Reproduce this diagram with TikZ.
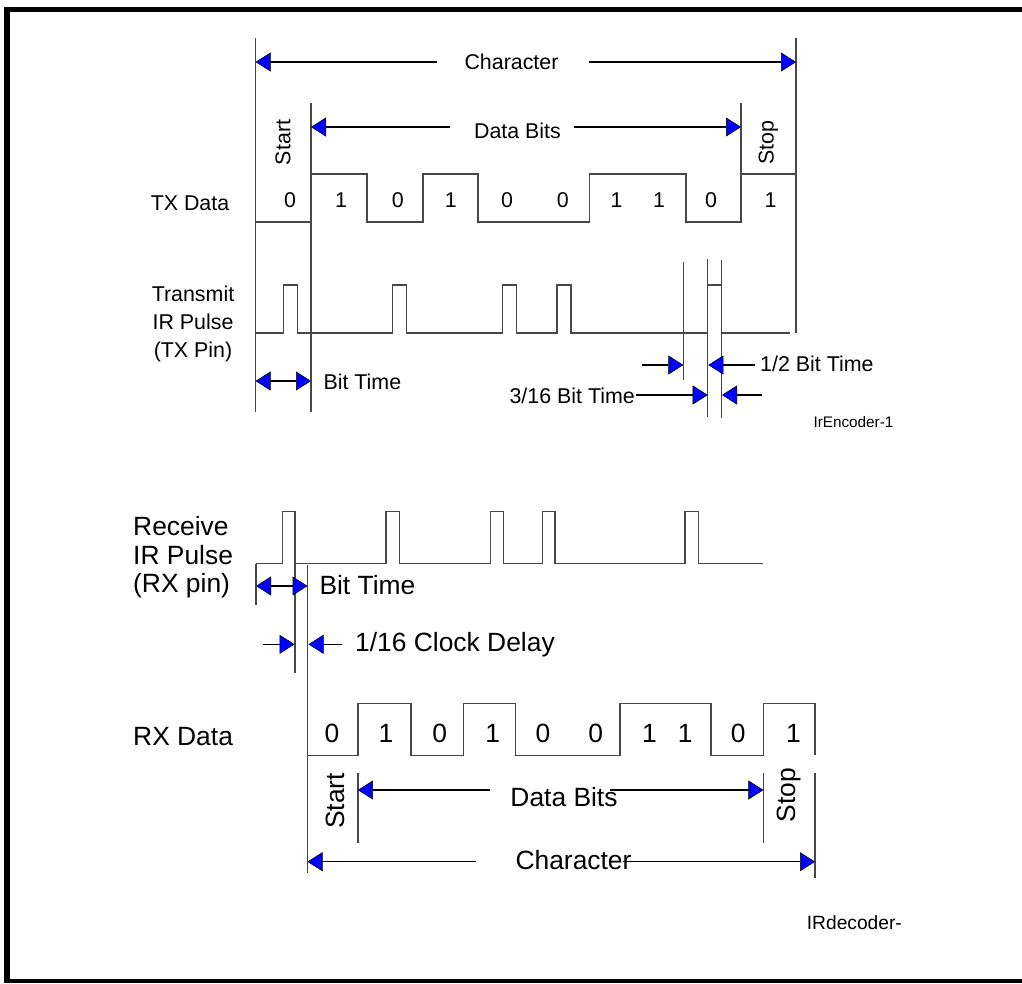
\documentclass[tikz,border=0pt]{standalone}
\usepackage{fontspec}
\setmainfont{Liberation Sans}
\usetikzlibrary{arrows.meta}
\begin{document}
\begin{tikzpicture}[x=1pt,y=-1pt,
  wave/.style={draw=black!72, line width=1.3pt, line join=miter},
  vline/.style={draw=black!72, line width=1.3pt},
  tipb/.tip={Triangle[length=15pt,width=19pt,fill=blue,color=black,line width=0.5pt]},
  dim/.style={draw=black, line width=1.1pt, -tipb},
  dimboth/.style={draw=black, line width=1.1pt, tipb-tipb},
  txt/.style={inner sep=0pt, font=\fontsize{21.4}{28}\selectfont},
  big/.style={inner sep=0pt, font=\fontsize{26.4}{28.4}\selectfont},
  small/.style={inner sep=0pt, font=\fontsize{15.3}{18}\selectfont},
  mid/.style={inner sep=0pt, font=\fontsize{19.2}{22}\selectfont},
]
\useasboundingbox (0,0) rectangle (1022,983);
% frame
\fill[black] (4,7) rectangle (1022,12);
\fill[black] (4,7) rectangle (10,983);
\fill[black] (4,979) rectangle (1022,983);

%================ TOP (encoder) ================
% boundary lines
\coordinate (cL1) at (255.6,38);  \coordinate (cL2) at (255.6,412);
\coordinate (sT1) at (311,103);   \coordinate (sT2) at (311,412);
\coordinate (pT1) at (741,103);   \coordinate (pT2) at (741,222);
\coordinate (cR1) at (796,38);    \coordinate (cR2) at (796,333);
\draw[vline] (cL1) -- (cL2);
\draw[vline] (sT1) -- (sT2);
\draw[vline] (pT1) -- (pT2);
\draw[vline] (cR1) -- (cR2);

% Character
\node[txt] (charT) at (511.5,62) {Character};
\coordinate (cTa) at (436.6,62); \coordinate (cTb) at (588.8,62);
\coordinate (cTl) at (255.6,62); \coordinate (cTr) at (796,62);
\draw[dim] (cTa) -- (cTl);
\draw[dim] (cTb) -- (cTr);

% Data bits
\node[txt] (dataT) at (517.5,131) {Data Bits};
\coordinate (dTa) at (449.6,127); \coordinate (dTb) at (574,127);
\coordinate (dTl) at (311,127);   \coordinate (dTr) at (741,127);
\draw[dim] (dTa) -- (dTl);
\draw[dim] (dTb) -- (dTr);

\node[txt, rotate=90] (startT) at (283,142.5) {Start};
\node[txt, rotate=90] (stopT) at (768.3,142.5) {Stop};

% TX data
\node[txt] (txlab) at (190,203) {TX Data};
\draw[wave] (255.6,222) -- (311,222) -- (311,174) -- (367,174) -- (367,222)
  -- (423,222) -- (423,174) -- (478,174) -- (478,222) -- (589.5,222)
  -- (589.5,174) -- (686,174) -- (686,222) -- (741,222) -- (741,174) -- (796,174);
\foreach \x/\b [count=\i] in {290/0,341/1,397.7/0,450.7/1,507/0,562.8/0,616.6/1,659/1,711/0,770.6/1}
  \node[txt] (tb\i) at (\x,200.5) {\b};

% TX pulses
\node[txt, align=center] (txp) at (193,323.5) {Transmit\\IR Pulse\\(TX Pin)};
\draw[wave] (255.6,333) -- (283.3,333) -- (283.3,285) -- (297.3,285) -- (297.3,333)
  -- (392.7,333) -- (392.7,285) -- (406.7,285) -- (406.7,333)
  -- (502.3,333) -- (502.3,285) -- (516.3,285) -- (516.3,333)
  -- (557,333) -- (557,285) -- (571,285) -- (571,333)
  -- (707.7,333) -- (707.7,285) -- (721.7,285) -- (721.7,333) -- (790,333);

% bit time (TX)
\coordinate (btl) at (255.6,381); \coordinate (btr) at (311,381);
\draw[dimboth] (btl) -- (btr);
\node[txt, anchor=west] (btT) at (323.3,382) {Bit Time};

% half / 3-16 bit lines
\coordinate (h1a) at (683.3,261.7); \coordinate (h1b) at (683.3,380);
\coordinate (h2a) at (707.7,259);   \coordinate (h2b) at (707.7,416.7);
\coordinate (h3a) at (721.7,260);   \coordinate (h3b) at (721.7,418);
\draw[vline] (h1a) -- (h1b);
\draw[vline] (h2a) -- (h2b);
\draw[vline] (h3a) -- (h3b);

\coordinate (hA) at (641.7,365); \coordinate (hAt) at (683.3,365);
\coordinate (hB) at (755,365);   \coordinate (hBt) at (708.3,365);
\draw[dim] (hA) -- (hAt);
\draw[dim] (hB) -- (hBt);
\node[txt, anchor=west] (halfT) at (760,364) {1/2 Bit Time};

\node[txt, anchor=east] (t316) at (635,396) {3/16 Bit Time};
\coordinate (tA) at (636,395);   \coordinate (tAt) at (707.7,395);
\coordinate (tB) at (762.3,395); \coordinate (tBt) at (722,395);
\draw[dim] (tA) -- (tAt);
\draw[dim] (tB) -- (tBt);

\node[small, anchor=west] (enc) at (813.3,421.7) {IrEncoder-1};

%================ BOTTOM (decoder) ================
\node[big, align=left, anchor=west] (rxp) at (133,557.5) {Receive\\IR Pulse\\(RX pin)};
\draw[wave] (256,563.3) -- (282.3,563.3) -- (282.3,511.7) -- (295,511.7) -- (295,563.3)
  -- (386,563.3) -- (386,511.7) -- (399.3,511.7) -- (399.3,563.3)
  -- (490.7,563.3) -- (490.7,511.7) -- (503.3,511.7) -- (503.3,563.3)
  -- (542.3,563.3) -- (542.3,511.7) -- (555,511.7) -- (555,563.3)
  -- (685,563.3) -- (685,511.7) -- (698.3,511.7) -- (698.3,563.3) -- (763.3,563.3);

\coordinate (rl1) at (256,564);   \coordinate (rl2) at (256,605);
\coordinate (rd1) at (295,563.3); \coordinate (rd2) at (295,672.7);
\coordinate (rs1) at (307.5,565); \coordinate (rs2) at (307.5,873.3);
\draw[vline] (rl1) -- (rl2);
\draw[vline] (rd1) -- (rd2);
\draw[vline] (rs1) -- (rs2);

\coordinate (rbl) at (256,586); \coordinate (rbr) at (307.5,586);
\draw[dimboth] (rbl) -- (rbr);
\node[big, anchor=west] (rbT) at (319.3,585.5) {Bit Time};

\coordinate (cdA) at (262.7,644.3); \coordinate (cdAt) at (294.5,644.3);
\coordinate (cdB) at (341.7,644.3); \coordinate (cdBt) at (308.5,644.3);
\draw[dim] (cdA) -- (cdAt);
\draw[dim] (cdB) -- (cdBt);
\node[big, anchor=west] (cdT) at (355,645) {1/16 Clock Delay};

% RX data
\node[big, anchor=west] (rxlab) at (133,737) {RX Data};
\draw[wave] (307.5,755.3) -- (357.9,755.3) -- (357.9,703.3) -- (411,703.3) -- (411,755.3)
  -- (463.3,755.3) -- (463.3,703.3) -- (515.6,703.3) -- (515.6,755.3) -- (620,755.3)
  -- (620,703.3) -- (711,703.3) -- (711,755.3) -- (763.4,755.3) -- (763.4,703.3)
  -- (815,703.3) -- (815,755.3);
\foreach \x/\b [count=\i] in {332/0,385.9/1,439.6/0,492.7/1,542.9/0,595.6/0,649.4/1,685.2/1,738.3/0,793.5/1}
  \node[big] (rb\i) at (\x,733.5) {\b};

\coordinate (bs1) at (357.9,773.3); \coordinate (bs2) at (357.9,843.3);
\coordinate (bp1) at (763.4,773.3); \coordinate (bp2) at (763.4,843.3);
\coordinate (br1) at (815,773.3);   \coordinate (br2) at (815,878.3);
\draw[vline] (bs1) -- (bs2);
\draw[vline] (bp1) -- (bp2);
\draw[vline] (br1) -- (br2);

\node[big, rotate=90] (startB) at (335.7,801) {Start};
\node[big, rotate=90] (stopB) at (789.2,795) {Stop};

\node[big] (dataB) at (564,797) {Data Bits};
\coordinate (dBa) at (489.8,790); \coordinate (dBb) at (610,790);
\coordinate (dBl) at (357.9,790); \coordinate (dBr) at (763.4,790);
\draw[dim] (dBa) -- (dBl);
\draw[dim] (dBb) -- (dBr);

\node[big] (charB) at (573.5,860) {Character};
\coordinate (cBa) at (476.2,861.7); \coordinate (cBb) at (622.5,861.7);
\coordinate (cBl) at (307.5,861.7); \coordinate (cBr) at (815,861.7);
\draw[dim] (cBa) -- (cBl);
\draw[dim] (cBb) -- (cBr);

\node[mid, anchor=west] (dec) at (806.7,922.7) {IRdecoder-};
\end{tikzpicture}
\end{document}
